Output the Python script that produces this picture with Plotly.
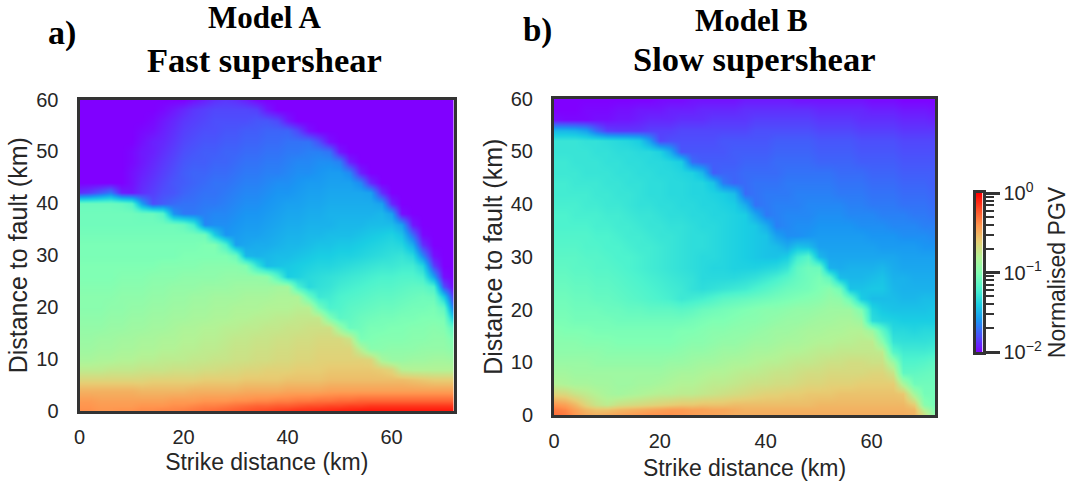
import numpy as np
import plotly.graph_objects as go

# Strike distance and fault distance of the hand-read sample grid (km)
strike_km = [0,2,4,6,8,10,12,14,16,18,20,22,24,26,28,30,32,34,36,38,40,42,44,46,48,50,52,54,56,58,60,62,64,66,68,70,72]
fault_km = [60,58,56,54,52,50,48,46,44,42,40,38,36,34,32,30,28,26,24,22,20,18,16,14,12,10,8,6,4,2,1,0]

# PGV: percent of the colour scale (0 = 10^-2, 100 = 10^0)
model_a_pct = [
    [0,0,0,0,0,0,0,0,0,0,0,2,4,6,7,6,4,1,0,0,0,0,0,0,0,0,0,0,0,0,0,0,0,0,0,0,0],
    [0,0,0,0,0,0,0,0,1,3,5,7,8,9,9,9,9,8,3,0,0,0,0,0,0,0,0,0,0,0,0,0,0,0,0,0,0],
    [0,0,0,0,0,0,0,1,3,5,7,8,9,10,10,10,10,11,11,9,3,0,0,0,0,0,0,0,0,0,0,0,0,0,0,0,0],
    [0,0,0,0,0,0,1,2,4,6,8,9,10,10,11,11,12,12,13,13,13,9,2,0,0,0,0,0,0,0,0,0,0,0,0,0,0],
    [0,0,0,0,0,0,2,4,5,7,9,10,11,11,12,12,13,13,14,14,15,15,15,10,2,0,0,0,0,0,0,0,0,0,0,0,0],
    [0,0,0,0,0,1,3,4,6,8,10,11,12,12,13,13,14,14,15,15,16,16,17,17,15,3,0,0,0,0,0,0,0,0,0,0,0],
    [0,0,0,0,0,1,3,5,7,9,11,12,12,13,13,14,15,15,16,16,17,18,18,19,19,17,4,0,0,0,0,0,0,0,0,0,0],
    [0,0,0,0,0,2,4,6,8,10,12,13,13,14,14,15,16,16,17,17,18,19,19,20,21,21,18,4,0,0,0,0,0,0,0,0,0],
    [0,0,0,0,0,2,5,7,9,11,12,13,14,15,15,16,17,17,18,19,19,20,21,21,22,22,22,18,5,0,0,0,0,0,0,0,0],
    [6,8,12,16,4,3,6,8,10,11,13,14,15,15,16,17,18,18,19,20,20,21,22,22,23,23,23,23,22,6,0,0,0,0,0,0,0],
    [46,46,46,46,45,42,22,10,12,14,15,15,16,16,17,18,19,19,20,21,22,22,23,23,24,24,24,24,24,22,5,0,0,0,0,0,0],
    [47,47,47,47,47,47,46,46,42,20,16,16,17,18,18,19,20,20,21,22,23,23,24,24,25,25,25,25,25,26,22,2,0,0,0,0,0],
    [47,47,47,47,47,47,47,47,47,47,45,38,18,19,19,20,21,21,22,23,24,24,25,25,25,26,26,26,27,27,27,22,3,0,0,0,0],
    [48,48,48,48,48,48,48,48,48,48,48,48,47,30,20,21,22,22,23,24,25,25,26,26,27,27,27,28,29,30,31,28,14,1,0,0,0],
    [49,49,49,49,49,49,49,49,49,49,49,49,50,50,40,22,23,24,24,25,26,26,27,28,28,29,29,30,31,32,33,32,24,6,0,0,0],
    [49,49,49,49,49,49,49,49,49,49,50,50,50,50,50,46,26,25,26,27,27,28,29,30,30,31,31,32,33,34,35,36,33,18,2,0,0],
    [50,50,50,50,50,50,50,50,51,51,51,51,52,52,52,52,50,36,27,28,29,30,31,32,32,33,34,35,36,37,37,38,38,32,8,0,0],
    [50,50,50,50,51,51,51,52,52,52,53,53,53,53,54,54,54,54,53,42,30,31,33,34,35,36,37,38,39,40,40,41,41,39,22,2,0],
    [51,51,51,51,52,52,52,53,53,54,54,54,55,55,55,56,56,56,56,57,57,40,33,35,36,38,39,40,41,42,42,43,44,44,40,10,0],
    [52,52,52,52,53,53,53,54,54,55,55,56,56,57,57,57,58,58,58,59,59,59,46,37,38,40,41,42,43,44,44,45,46,47,46,30,4],
    [52,52,52,53,53,54,54,55,55,56,56,57,57,58,58,59,59,59,60,60,60,61,61,48,40,41,43,44,45,46,46,47,48,48,49,44,12],
    [53,53,53,54,54,55,55,56,56,57,57,58,58,59,59,60,60,61,61,62,62,63,63,63,50,43,44,46,47,48,48,49,49,50,50,49,26],
    [54,54,54,55,55,56,56,57,57,58,59,59,60,60,61,61,62,62,63,63,64,64,65,65,65,55,46,47,49,49,50,50,51,51,52,51,42],
    [55,55,56,56,57,57,58,58,59,59,60,60,61,61,62,63,63,64,64,65,65,66,66,67,67,67,64,49,50,51,51,51,52,52,53,53,49],
    [56,56,57,57,58,58,59,59,60,60,61,61,62,62,63,64,64,65,65,66,66,67,67,68,68,68,68,60,52,52,53,53,53,54,54,54,52],
    [58,58,59,59,60,60,61,61,62,62,62,63,63,64,64,65,65,66,66,67,67,68,68,69,69,69,69,69,68,58,55,55,56,56,57,57,56],
    [62,62,62,63,63,63,64,64,64,65,65,65,66,66,67,67,68,68,69,69,69,70,70,70,71,71,71,71,71,70,68,61,60,60,60,60,60],
    [68,68,68,68,68,68,68,69,69,69,69,69,70,70,70,70,71,71,71,71,72,72,72,72,73,73,73,73,73,73,73,73,72,71,70,70,70],
    [75,75,75,75,75,75,74,74,74,74,74,75,75,75,75,75,76,76,76,76,77,77,77,77,78,78,78,78,78,78,78,78,78,78,78,78,78],
    [79,79,78,78,78,78,78,78,78,79,79,79,80,80,80,81,81,82,82,83,83,84,84,85,85,86,86,87,87,87,87,87,87,87,87,87,87],
    [80,80,79,79,79,79,80,80,80,81,81,82,83,83,84,85,86,87,87,88,88,89,90,90,91,91,92,92,93,93,93,93,93,93,93,93,93],
    [81,81,80,80,81,81,82,82,83,83,84,85,86,87,88,89,90,91,92,93,94,95,95,96,96,97,97,98,98,98,98,98,98,98,98,98,98],
]
model_b_pct = [
    [0,0,0,0,0,0,0,0,0,0,1,1,1,2,2,2,2,2,3,3,3,3,3,2,2,2,2,2,2,2,1,1,1,0,0,0,0],
    [0,0,0,1,1,1,2,2,3,3,3,4,4,4,5,5,5,5,6,6,6,6,6,6,6,5,5,5,5,5,4,4,4,3,3,3,2],
    [2,1,1,1,2,2,3,3,4,5,5,5,6,6,6,7,7,7,7,8,8,8,8,8,8,7,7,7,7,6,6,6,6,5,5,5,4],
    [26,26,25,22,14,8,7,7,7,8,8,8,9,9,9,9,9,9,9,10,10,10,10,10,10,9,9,9,9,8,8,8,8,7,7,7,7],
    [36,36,36,35,35,34,33,32,30,22,9,10,10,10,10,10,11,11,11,11,11,12,12,12,12,11,11,11,11,10,10,10,10,9,9,9,9],
    [36,36,36,36,35,35,34,34,33,33,31,24,11,11,11,11,11,12,12,12,12,13,13,13,13,12,12,12,12,11,11,11,11,10,10,10,10],
    [37,37,36,36,36,35,35,34,34,33,33,32,30,14,12,12,12,12,13,13,13,14,14,14,14,13,13,13,13,12,12,12,12,11,11,11,11],
    [37,37,37,36,36,36,35,35,34,34,33,33,32,31,26,12,13,13,14,14,14,14,15,15,15,15,15,14,14,14,13,13,13,12,12,12,12],
    [38,38,37,37,37,36,36,35,35,34,34,33,33,32,32,28,16,13,14,15,15,15,16,16,16,16,16,15,15,15,14,14,14,13,13,13,12],
    [38,38,38,38,37,37,36,36,35,34,34,33,33,32,32,31,30,27,14,15,16,16,16,17,17,17,17,16,16,16,15,15,15,14,14,14,13],
    [39,39,39,38,38,37,37,36,35,35,34,34,33,33,32,32,31,30,24,15,16,17,17,17,18,18,18,18,17,17,16,16,16,15,15,15,14],
    [40,40,39,39,39,38,38,37,36,36,35,34,34,33,33,32,32,31,30,23,16,17,18,18,18,19,19,19,18,18,18,17,17,17,16,16,15],
    [40,40,40,40,39,39,38,38,37,36,36,35,35,34,33,33,32,31,30,29,24,17,18,19,19,20,20,20,20,19,19,19,18,18,18,17,17],
    [41,41,41,41,40,40,39,38,38,37,36,36,35,34,34,33,32,31,30,29,28,22,19,19,20,21,21,21,21,21,20,20,20,19,19,19,18],
    [42,42,42,41,41,40,40,39,38,38,37,36,35,34,34,33,32,31,30,29,28,27,24,28,27,22,22,22,22,22,22,21,21,21,21,20,20],
    [43,43,43,42,42,41,40,40,39,38,37,36,35,34,33,33,32,31,30,29,28,28,30,38,42,26,23,23,23,23,23,23,23,22,22,22,22],
    [44,44,43,43,42,42,41,40,39,38,37,36,35,34,33,32,32,31,31,31,32,33,36,44,47,46,25,24,25,25,25,26,24,23,23,23,23],
    [45,45,44,44,43,43,42,41,40,39,38,37,36,35,33,33,33,33,34,35,37,39,42,45,47,49,44,27,26,26,27,28,25,25,24,24,24],
    [46,46,45,45,44,44,43,42,41,40,39,38,37,35,34,35,36,37,38,40,42,44,46,47,48,50,52,47,28,28,29,29,26,25,25,25,25],
    [47,47,46,46,45,45,44,43,42,41,40,39,37,38,39,41,43,44,45,46,47,48,49,50,51,52,54,53,46,30,27,27,27,26,26,27,27],
    [48,48,47,47,47,46,46,45,45,44,44,44,43,44,46,47,48,49,50,51,52,52,53,54,54,55,56,56,56,50,32,29,28,28,28,28,29],
    [49,49,48,48,48,48,47,47,47,47,47,47,47,48,49,50,50,51,52,52,53,54,55,55,56,57,57,58,58,56,34,32,31,30,30,30,30],
    [51,50,50,50,49,49,49,49,49,49,49,49,50,50,51,52,52,53,53,54,55,56,56,57,58,58,59,59,60,60,56,44,33,33,32,33,33],
    [52,52,52,51,51,51,50,50,50,50,50,50,51,52,52,53,54,54,55,56,56,57,58,58,59,60,60,61,61,62,62,52,36,35,35,35,36],
    [53,53,53,53,53,52,52,52,52,52,52,52,53,54,54,55,56,56,57,58,58,59,60,60,61,62,62,63,63,63,63,62,42,38,38,38,39],
    [55,55,55,55,54,54,54,54,54,54,54,55,55,56,57,57,58,59,59,60,61,61,62,63,63,64,65,65,66,66,65,65,56,41,41,42,44],
    [57,57,56,56,56,56,56,56,56,56,56,57,58,58,59,60,60,61,62,62,63,64,64,65,66,66,67,67,67,67,68,68,64,44,44,45,46],
    [60,59,58,58,57,57,56,56,57,57,58,59,60,60,61,62,62,63,64,65,65,66,66,67,68,68,69,69,69,70,70,70,70,58,47,47,47],
    [68,67,64,62,60,58,57,58,59,60,61,61,62,62,63,64,65,66,67,68,69,69,70,70,71,71,71,72,72,72,72,72,72,71,57,48,48],
    [80,78,74,68,64,62,65,66,67,68,69,70,71,71,72,72,72,73,73,73,73,73,73,73,73,74,74,74,74,74,74,74,74,74,70,52,48],
    [84,82,78,74,72,72,74,75,76,77,78,79,79,78,78,77,77,76,75,75,75,75,75,75,75,75,75,75,75,75,75,75,75,75,74,60,50],
    [86,84,80,77,76,77,78,79,80,81,81,81,80,79,78,78,77,76,76,76,76,76,76,76,76,76,76,76,76,76,76,76,76,76,75,66,52],
]

x_ticks = [0, 20, 40, 60]
y_ticks = [0, 10, 20, 30, 40, 50, 60]
cbar_levels = [-2, -1.5, -1, -0.5, 0]
cbar_major = [-2, -1, 0]
cbar_major_text = ["10<sup>\u22122</sup>", "10<sup>\u22121</sup>", "10<sup>0</sup>"]
cbar_minor = [-1.699, -1.523, -1.398, -1.301, -1.222, -1.155, -1.097, -1.046,
              -0.699, -0.523, -0.398, -0.301, -0.222, -0.155, -0.097, -0.046]

rainbow = [[0.0, "rgb(128,0,255)"], [0.1, "rgb(77,79,252)"], [0.2, "rgb(26,150,243)"],
           [0.3, "rgb(26,206,227)"], [0.4, "rgb(77,243,206)"], [0.5, "rgb(128,255,180)"],
           [0.6, "rgb(179,243,150)"], [0.7, "rgb(230,206,116)"], [0.8, "rgb(255,150,79)"],
           [0.9, "rgb(255,79,40)"], [1.0, "rgb(255,0,0)"]]

W, H = 1075, 486
INK = "#333333"
TEXT = "#262626"
SANS = "Liberation Sans"
SERIF = "Liberation Serif"


def to_log(pct):
    return (np.array(pct, dtype=float) / 50.0 - 2).tolist()


def dom_x(a, b):
    return [a / W, b / W]


def dom_y(top, bottom):
    return [1 - bottom / H, 1 - top / H]


fig = go.Figure()
for z, xa, ya in [(model_a_pct, "x", "y"), (model_b_pct, "x2", "y2")]:
    fig.add_trace(go.Heatmap(x=strike_km, y=fault_km, z=to_log(z), xaxis=xa, yaxis=ya,
                             colorscale=rainbow, zmin=-2, zmax=0, zsmooth="best",
                             showscale=False, hoverinfo="skip"))
fig.add_trace(go.Heatmap(x=[0, 1], y=cbar_levels, z=[[v, v] for v in cbar_levels],
                         xaxis="x3", yaxis="y3", colorscale=rainbow, zmin=-2, zmax=0,
                         zsmooth="best", showscale=False, hoverinfo="skip"))

common = dict(showline=True, mirror=True, linewidth=3, linecolor=INK, showgrid=False,
              zeroline=False, ticks="", tickfont=dict(family=SANS, size=20, color=TEXT))
xt = dict(family=SANS, size=23, color=TEXT)
yt = dict(family=SANS, size=25, color=TEXT)

fig.update_layout(
    width=W, height=H, margin=dict(l=0, r=0, t=0, b=0, autoexpand=False),
    paper_bgcolor="white", plot_bgcolor="white", showlegend=False,
    xaxis=dict(domain=dom_x(79.5, 454), range=[0, 72], tickvals=x_ticks, anchor="y", ticklabelstandoff=6,
               title=dict(text="Strike distance (km)", standoff=7, font=xt), **common),
    yaxis=dict(domain=dom_y(99.5, 411), range=[0, 60], tickvals=y_ticks, anchor="x", ticklabelstandoff=14,
               title=dict(text="Distance to fault (km)", standoff=2, font=yt), **common),
    xaxis2=dict(domain=dom_x(554, 935), range=[0, 72], tickvals=x_ticks, anchor="y2", ticklabelstandoff=6,
                title=dict(text="Strike distance (km)", standoff=9, font=xt), **common),
    yaxis2=dict(domain=dom_y(98.5, 415), range=[0, 60], tickvals=y_ticks, anchor="x2", ticklabelstandoff=14,
                title=dict(text="Distance to fault (km)", standoff=2, font=yt), **common),
    xaxis3=dict(domain=dom_x(975.5, 982.5), range=[0, 1], anchor="y3", showticklabels=False,
                ticks="", showline=True, mirror=True, linewidth=3, linecolor=INK,
                showgrid=False, zeroline=False),
    yaxis3=dict(domain=dom_y(193, 352), range=[-2, 0], anchor="x3", side="right",
                showline=True, mirror=True, linewidth=3, linecolor=INK, showgrid=False,
                zeroline=False, tickvals=cbar_major, ticktext=cbar_major_text,
                ticks="outside", ticklen=14, tickwidth=2.5, tickcolor=INK,
                tickfont=dict(family=SANS, size=20, color=TEXT),
                minor=dict(tickvals=cbar_minor, ticks="outside", ticklen=8, tickwidth=2,
                           tickcolor=INK),
                title=dict(text="Normalised PGV", standoff=8,
                           font=dict(family=SANS, size=23, color=TEXT))),
)

labels = [
    ("Model A", 264, 18, 31),
    ("Fast supershear", 264, 60, 34.5),
    ("a)", 62, 33, 34),
    ("Model B", 751, 20, 31),
    ("Slow supershear", 754, 59, 34.5),
    ("b)", 537, 31, 33),
]
for text, px, py, size in labels:
    fig.add_annotation(text=text, x=px / W, y=1 - py / H, xref="paper", yref="paper",
                       xanchor="center", yanchor="middle", showarrow=False,
                       font=dict(family=SERIF, size=size, color="black", weight="bold"))

fig.write_html("out.html", config={"displayModeBar": False},
               post_script="document.body.style.margin='0';")
